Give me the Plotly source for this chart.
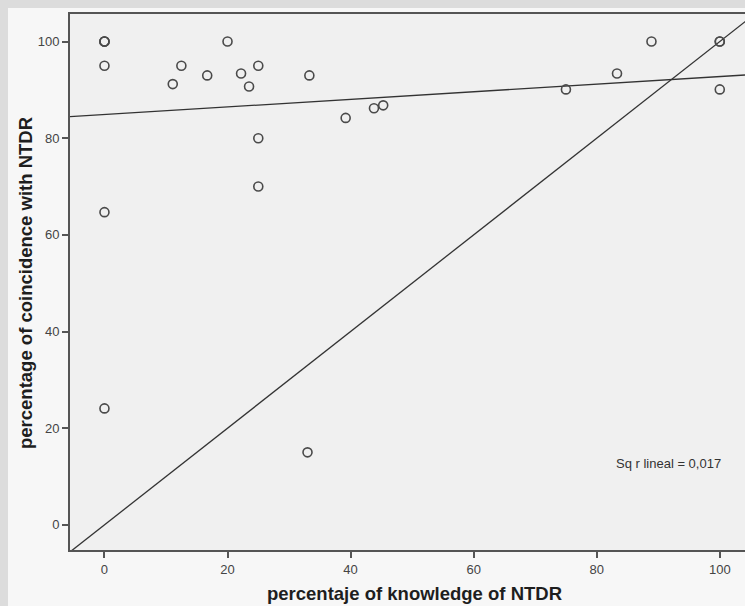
import plotly.graph_objects as go

# Data
knowledge = [0, 0, 0, 0, 0, 0, 11.1, 12.5, 16.7, 20, 22.2, 23.5, 25, 25, 25,
             33.3, 33.0, 39.2, 43.8, 45.3, 75, 83.3, 88.9, 100, 100, 100]
coincidence = [100, 100, 100, 95, 64.7, 24.1, 91.2, 95, 93, 100, 93.4, 90.7, 95, 80, 70,
               93, 15, 84.2, 86.2, 86.8, 90.1, 93.4, 100, 100, 100, 90.1]

fit_intercept = 84.9
fit_slope = 0.0786
r2_label = "Sq r lineal = 0,017"

x_range = [-5.6, 104.1]
y_range = [-5.2, 105.7]
x_ticks = [0, 20, 40, 60, 80, 100]
y_ticks = [0, 20, 40, 60, 80, 100]

FONT = "Liberation Sans, Arial, sans-serif"
LINE = "#333333"

fig = go.Figure()

# y = x reference line
fig.add_trace(go.Scatter(
    x=[x_range[0], 110], y=[x_range[0], 110], mode="lines",
    line=dict(color=LINE, width=1.3), hoverinfo="skip", showlegend=False))

# linear fit line
fx = [x_range[0], x_range[1]]
fig.add_trace(go.Scatter(
    x=fx, y=[fit_intercept + fit_slope * v for v in fx], mode="lines",
    line=dict(color=LINE, width=1.3), hoverinfo="skip", showlegend=False))

fig.add_trace(go.Scatter(
    x=knowledge, y=coincidence, mode="markers",
    marker=dict(symbol="circle-open", size=9, color="#4a4a4a", line=dict(width=1.6)),
    showlegend=False))

# figure sits at page offset (8, 8) because of the body margin
W, H = 737, 598
ml, mr, mt, mb = 62, 0, 6, 56
pw, ph = W - ml - mr, H - mt - mb

fig.add_annotation(x=91.6, y=12.6, xref="x", yref="y", text=r2_label, showarrow=False,
                   font=dict(family=FONT, size=13, color="#333333"))

fig.add_annotation(x=(414 - 8 - ml) / pw, y=-(593 - 550) / ph, xref="paper", yref="paper",
                   text="<b>percentaje of knowledge of NTDR</b>", showarrow=False,
                   font=dict(family=FONT, size=18.5, color="#1e1e1e"), yanchor="middle")
fig.add_annotation(x=-(70 - 25) / pw, y=(550 - 283) / ph, xref="paper", yref="paper",
                   text="<b>percentage of coincidence with NTDR</b>", showarrow=False,
                   textangle=-90, font=dict(family=FONT, size=18.5, color="#1e1e1e"),
                   xanchor="center", yanchor="middle")

fig.update_layout(
    width=W, height=H,
    margin=dict(l=ml, r=mr, t=mt, b=mb, pad=0),
    paper_bgcolor="#f7f7f7",
    plot_bgcolor="#f0f0f0",
    font=dict(family=FONT, size=13, color="#444444"),
    xaxis=dict(range=x_range, tickvals=x_ticks, showgrid=False, zeroline=False,
               showline=True, mirror=True, linecolor="#555555", linewidth=2,
               ticks="outside", ticklen=6, tickwidth=1.5, tickcolor="#555555",
               tickfont=dict(family=FONT, size=13, color="#444444")),
    yaxis=dict(range=y_range, tickvals=y_ticks, showgrid=False, zeroline=False,
               showline=True, linecolor="#555555", linewidth=2,
               ticks="outside", ticklen=6, tickwidth=1.5, tickcolor="#555555",
               tickfont=dict(family=FONT, size=13, color="#444444")),
)

fig.write_html("out.html",
               post_script="document.body.style.margin='8px 0 0 8px';"
                           "document.body.style.background='#dcdcdc';")
